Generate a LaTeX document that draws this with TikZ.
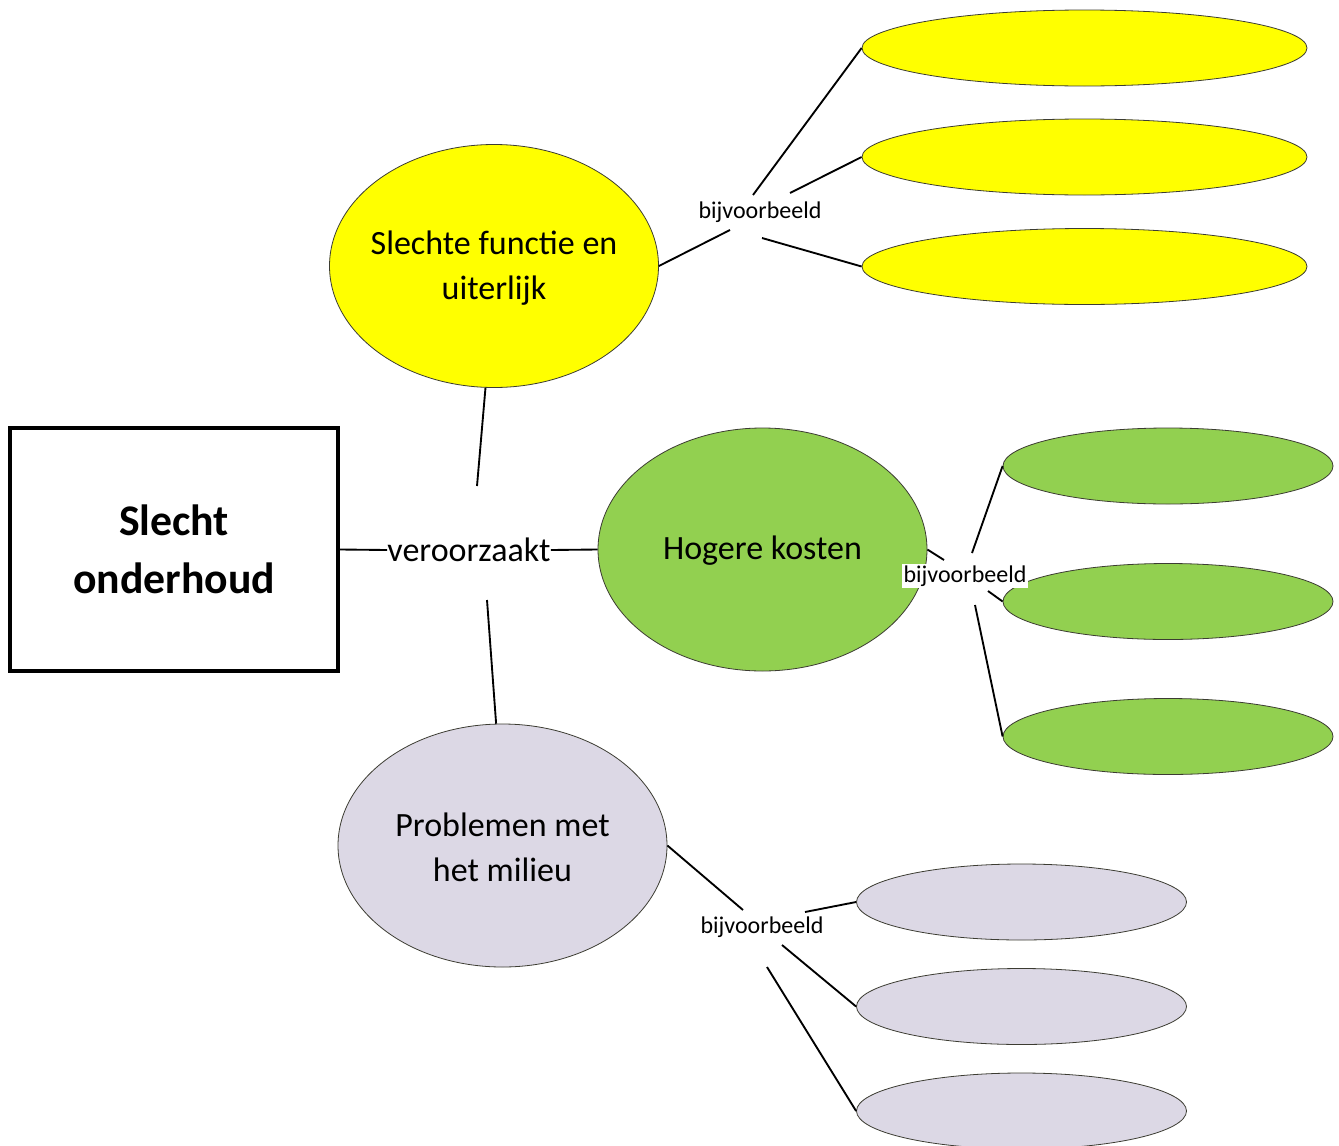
\documentclass[tikz,border=0pt]{standalone}
\usepackage{fontspec}
\setmainfont{Carlito}
\usetikzlibrary{shapes.geometric}
\definecolor{ylw}{RGB}{255,255,0}
\definecolor{grn}{RGB}{146,208,80}
\definecolor{lav}{RGB}{220,216,229}
\definecolor{edge}{RGB}{60,60,50}
\tikzset{
  bigell/.style={ellipse, draw=edge, line width=0.6pt, inner sep=0pt, minimum width=246.75pt, minimum height=182.25pt},
  smallell/.style={ellipse, draw=edge, line width=0.6pt, inner sep=0pt, minimum height=57pt},
  bigtxt/.style={align=center, inner sep=0pt, font=\fontsize{25.5}{34}\selectfont},
  exlabel/.style={inner sep=1pt, font=\fontsize{18}{22}\selectfont},
  conn/.style={line width=1.4pt, black},
}
\begin{document}
\begin{tikzpicture}[x=0.75pt,y=-0.75pt]
\useasboundingbox (0,0) rectangle (1339,1146);
\fill[white] (0,0) rectangle (1339,1146);

% central box
\node[draw=black, line width=3.2pt, minimum width=246pt, minimum height=182.25pt, inner sep=0pt,
      align=center, font=\fontsize{32.8}{43.5}\selectfont\bfseries] (box) at (174,549.5) {Slecht\\onderhoud};

% main ellipses
\node[bigell, fill=ylw] (y) at (494,266) {};
\node[bigtxt] (yt) at (494,268) {Slechte functie en\\uiterlijk};
\node[bigell, fill=grn] (g) at (762.5,549.5) {};
\node[bigtxt] (gt) at (762.5,551) {Hogere kosten};
\node[bigell, fill=lav] (p) at (502.5,845.5) {};
\node[bigtxt] (pt) at (502.5,847) {Problemen met\\het milieu};

% veroorzaakt
\node[inner sep=0pt, font=\fontsize{25.5}{30}\selectfont] (vz) at (469,550) {veroorzaakt};
\coordinate (vzt) at (477,486);
\coordinate (vzb) at (487,600);
\draw[conn] (box.east) -- (vz.west);
\draw[conn] (vz.east) -- (g.west);
\draw[conn] (y.266) -- (vzt);
\draw[conn] (vzb) -- (p.93);

% yellow examples
\node[smallell, fill=ylw, minimum width=333.75pt] (ys1) at (1084.5,48) {};
\node[smallell, fill=ylw, minimum width=333.75pt] (ys2) at (1084.5,157) {};
\node[smallell, fill=ylw, minimum width=333.75pt] (ys3) at (1084.5,266.5) {};
\node[exlabel] (yb) at (760,212) {bijvoorbeeld};
\coordinate (yb0) at (730,230);
\coordinate (yb1) at (753,195);
\coordinate (yb2) at (790,193);
\coordinate (yb3) at (762,238);
\draw[conn] (y.east) -- (yb0);
\draw[conn] (yb1) -- (ys1.west);
\draw[conn] (yb2) -- (ys2.west);
\draw[conn] (yb3) -- (ys3.west);

% green examples
\node[smallell, fill=grn, minimum width=247.5pt] (gs1) at (1168,466) {};
\node[smallell, fill=grn, minimum width=247.5pt] (gs2) at (1168,601.5) {};
\node[smallell, fill=grn, minimum width=247.5pt] (gs3) at (1168,736.5) {};
\coordinate (gb0) at (944,560);
\coordinate (gb1) at (972,553);
\coordinate (gb2) at (988,591);
\coordinate (gb3) at (975,605);
\draw[conn] (g.east) -- (gb0);
\draw[conn] (gb1) -- (gs1.west);
\draw[conn] (gb2) -- (gs2.west);
\draw[conn] (gb3) -- (gs3.west);
\node[exlabel, fill=white] (gb) at (965,576) {bijvoorbeeld};

% lavender examples
\node[smallell, fill=lav, minimum width=247.5pt] (ps1) at (1021.5,902) {};
\node[smallell, fill=lav, minimum width=247.5pt] (ps2) at (1021.5,1006.5) {};
\node[smallell, fill=lav, minimum width=247.5pt] (ps3) at (1021.5,1111) {};
\node[exlabel] (pb) at (762,927) {bijvoorbeeld};
\coordinate (pb0) at (743,910);
\coordinate (pb1) at (805,912);
\coordinate (pb2) at (782,945);
\coordinate (pb3) at (767,967);
\draw[conn] (p.east) -- (pb0);
\draw[conn] (pb1) -- (ps1.west);
\draw[conn] (pb2) -- (ps2.west);
\draw[conn] (pb3) -- (ps3.west);
\end{tikzpicture}
\end{document}
